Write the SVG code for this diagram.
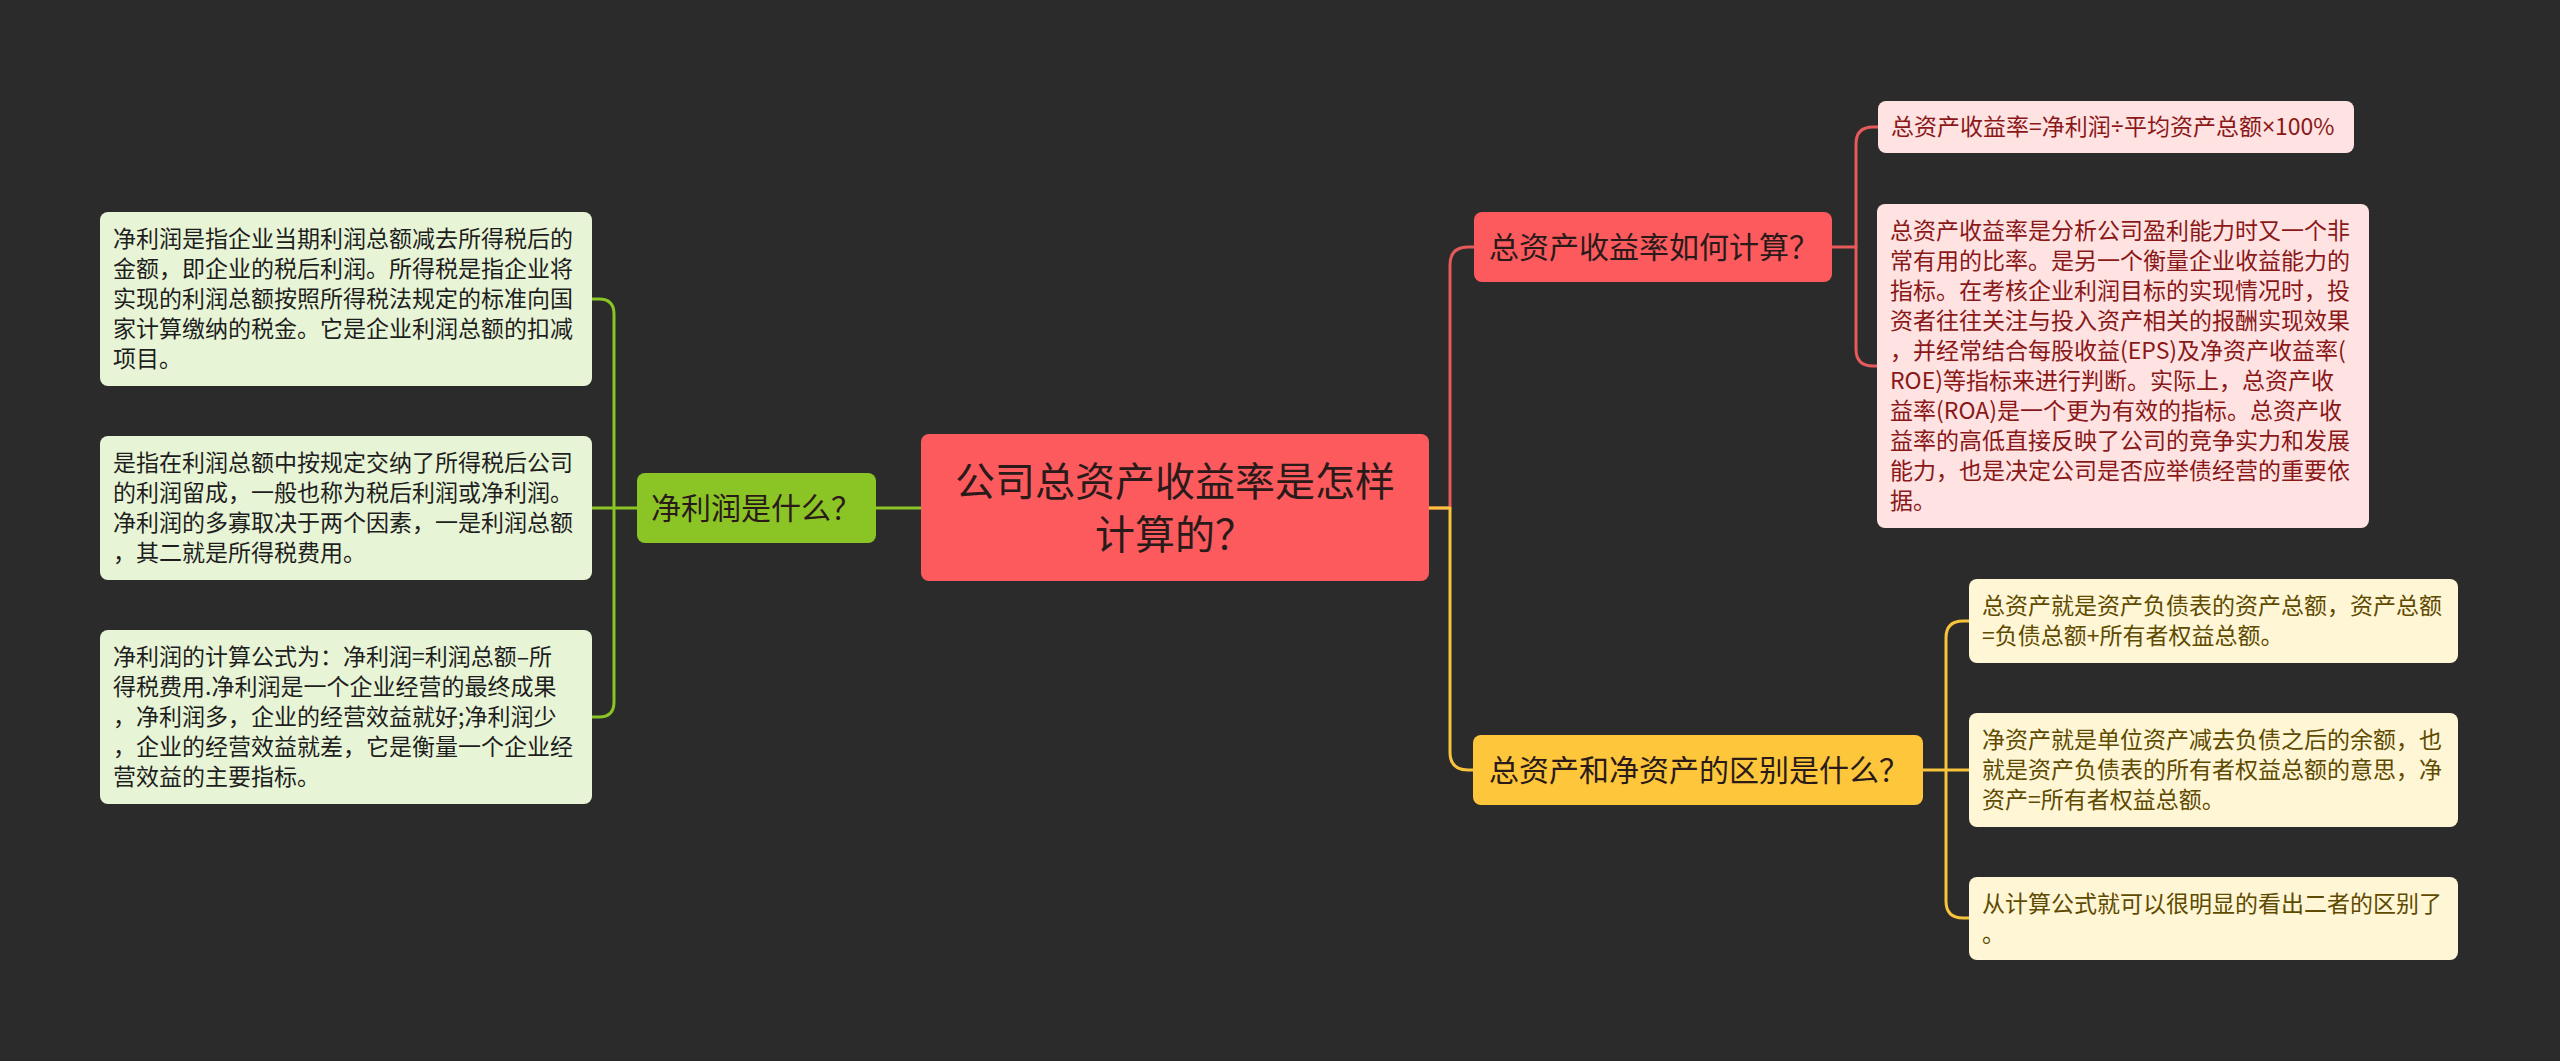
<svg xmlns="http://www.w3.org/2000/svg" width="2560" height="1061" viewBox="0 0 2560 1061">
<style>
text{font-family:"Noto Sans CJK SC","Noto Sans",sans-serif;}
.lat{font-family:"Noto Sans",sans-serif;}
.line{fill:none;stroke-width:3;stroke-linejoin:round;stroke-linecap:round;}
.g{stroke:#8AC425;}
.r{stroke:#E65A5C;}
.y{stroke:#F8C43C;}
.leafG rect{fill:#E8F4D6;}
.leafG text{fill:#1E1E1E;font-size:23px;}
.leafR rect{fill:#FFE2E2;}
.leafR text{fill:#8A1818;font-size:23px;}
.leafY rect{fill:#FFF6D6;}
.leafY text{fill:#5E4A00;font-size:23px;}
.main text{font-size:30px;fill:#2A1A1A;}
</style>
<rect x="0" y="0" width="2560" height="1061" fill="#2B2B2B"/>
<g id="connectors">
<path class="line g" d="M921,508 H592"/>
<path class="line g" d="M592,299 H599 Q614,299 614,314 V702 Q614,717 599,717 H592"/>
<path class="line r" d="M1429,508 H1450 V265 Q1450,247 1468,247 H1474"/>
<path class="line y" d="M1429,508 H1450 V752 Q1450,770 1468,770 H1473"/>
<path class="line r" d="M1832,247 H1856"/>
<path class="line r" d="M1878,127 H1873 Q1856,127 1856,144 V349 Q1856,366 1873,366 H1877"/>
<path class="line y" d="M1923,770 H1969"/>
<path class="line y" d="M1969,621 H1963 Q1946,621 1946,638 V901 Q1946,918 1963,918 H1969"/>
</g>
<g id="central" class="main">
<rect x="921" y="434" width="508" height="147" rx="8" fill="#FC5A5D"/>
<text x="1175" y="496" text-anchor="middle" style="font-size:40px">公司总资产收益率是怎样</text>
<text x="1175" y="549" text-anchor="middle" style="font-size:40px">计算的？</text>
</g>
<g id="n-left" class="main">
<rect x="637" y="473" width="239" height="70" rx="8" fill="#8AC425"/>
<text x="651" y="519">净利润是什么？</text>
</g>
<g id="leaf-l1" class="leafG">
<rect x="100" y="212" width="492" height="174" rx="8"/>
<text x="113" y="247">净利润是指企业当期利润总额减去所得税后的</text>
<text x="113" y="277">金额，即企业的税后利润。所得税是指企业将</text>
<text x="113" y="307">实现的利润总额按照所得税法规定的标准向国</text>
<text x="113" y="337">家计算缴纳的税金。它是企业利润总额的扣减</text>
<text x="113" y="367">项目。</text>
</g>
<g id="leaf-l2" class="leafG">
<rect x="100" y="436" width="492" height="144" rx="8"/>
<text x="113" y="471">是指在利润总额中按规定交纳了所得税后公司</text>
<text x="113" y="501">的利润留成，一般也称为税后利润或净利润。</text>
<text x="113" y="531">净利润的多寡取决于两个因素，一是利润总额</text>
<text x="113" y="561">，其二就是所得税费用。</text>
</g>
<g id="leaf-l3" class="leafG">
<rect x="100" y="630" width="492" height="174" rx="8"/>
<text x="113" y="665">净利润的计算公式为：净利润=利润总额–所</text>
<text x="113" y="695">得税费用.净利润是一个企业经营的最终成果</text>
<text x="113" y="725">，净利润多，企业的经营效益就好;净利润少</text>
<text x="113" y="755">，企业的经营效益就差，它是衡量一个企业经</text>
<text x="113" y="785">营效益的主要指标。</text>
</g>
<g id="n-r1" class="main">
<rect x="1474" y="212" width="358" height="70" rx="8" fill="#FC5A5D"/>
<text x="1489" y="258">总资产收益率如何计算？</text>
</g>
<g id="leaf-r1a" class="leafR">
<rect x="1878" y="101" width="476" height="52" rx="8"/>
<text x="1891" y="135">总资产收益率=净利润<tspan class="lat">÷</tspan>平均资产总额<tspan class="lat">×</tspan>100%</text>
</g>
<g id="leaf-r1b" class="leafR">
<rect x="1877" y="204" width="492" height="324" rx="8"/>
<text x="1890" y="239">总资产收益率是分析公司盈利能力时又一个非</text>
<text x="1890" y="269">常有用的比率。是另一个衡量企业收益能力的</text>
<text x="1890" y="299">指标。在考核企业利润目标的实现情况时，投</text>
<text x="1890" y="329">资者往往关注与投入资产相关的报酬实现效果</text>
<text x="1890" y="359">，并经常结合每股收益(EPS)及净资产收益率(</text>
<text x="1890" y="389">ROE)等指标来进行判断。实际上，总资产收</text>
<text x="1890" y="419">益率(ROA)是一个更为有效的指标。总资产收</text>
<text x="1890" y="449">益率的高低直接反映了公司的竞争实力和发展</text>
<text x="1890" y="479">能力，也是决定公司是否应举债经营的重要依</text>
<text x="1890" y="509">据。</text>
</g>
<g id="n-r2" class="main">
<rect x="1473" y="735" width="450" height="70" rx="8" fill="#FDC63B"/>
<text x="1489" y="781">总资产和净资产的区别是什么？</text>
</g>
<g id="leaf-r2a" class="leafY">
<rect x="1969" y="579" width="489" height="84" rx="8"/>
<text x="1982" y="614">总资产就是资产负债表的资产总额，资产总额</text>
<text x="1982" y="644">=负债总额+所有者权益总额。</text>
</g>
<g id="leaf-r2b" class="leafY">
<rect x="1969" y="713" width="489" height="114" rx="8"/>
<text x="1982" y="748">净资产就是单位资产减去负债之后的余额，也</text>
<text x="1982" y="778">就是资产负债表的所有者权益总额的意思，净</text>
<text x="1982" y="808">资产=所有者权益总额。</text>
</g>
<g id="leaf-r2c" class="leafY">
<rect x="1969" y="877" width="489" height="83" rx="8"/>
<text x="1982" y="912">从计算公式就可以很明显的看出二者的区别了</text>
<text x="1982" y="942">。</text>
</g>
</svg>
